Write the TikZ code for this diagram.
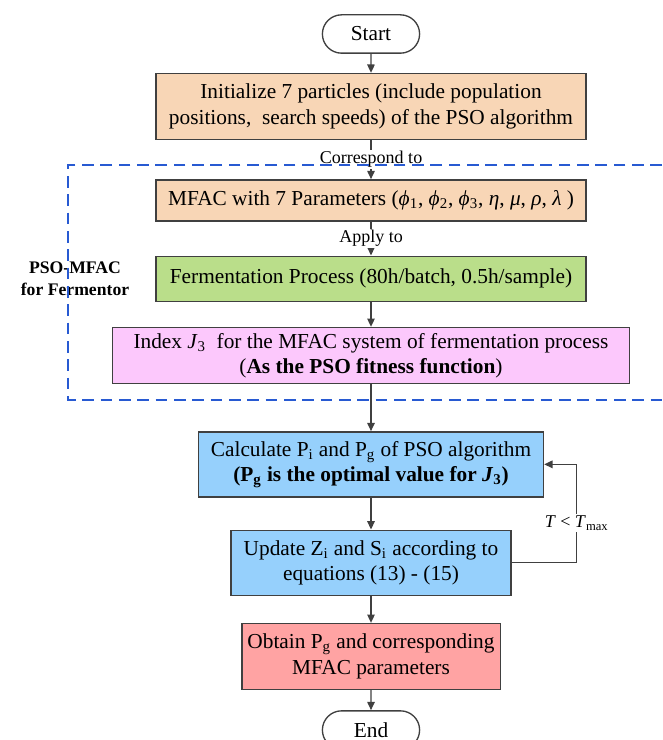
\documentclass[tikz,border=0pt]{standalone}
\usepackage{fontspec}
\setmainfont{Liberation Serif}
\usetikzlibrary{arrows.meta,positioning,shapes.misc}
\definecolor{peach}{RGB}{248,214,182}
\definecolor{leaf}{RGB}{186,222,138}
\definecolor{orchid}{RGB}{252,200,252}
\definecolor{sky}{RGB}{150,208,252}
\definecolor{salmon}{RGB}{255,163,163}
\definecolor{linegray}{RGB}{64,64,64}
\definecolor{dashblue}{RGB}{40,90,210}
\begin{document}
\begin{tikzpicture}[font=\fontsize{12.8}{15.2}\selectfont, line width=0.8pt,
		term/.style={rounded rectangle, draw=linegray, minimum width=65pt, minimum height=23pt},
		box/.style={rectangle, draw=linegray, align=center, inner sep=2pt},
		arr/.style={-{Triangle[length=5pt,width=4.5pt]}, draw=linegray},
		lbl/.style={fill=white, inner sep=1pt, font=\fontsize{10.8}{13}\selectfont}]
		\useasboundingbox (0,0) rectangle (397.2pt,-444pt);
		\node[term] (start) at (222.6pt,-20.4pt) {Start};
		\node[box, fill=peach, below=11.4pt of start, minimum width=258pt, minimum height=39.6pt] (init) {Initialize 7 particles (include population\\positions,\ \ search speeds) of the PSO algorithm};
		\node[box, fill=peach, below=23.4pt of init, minimum width=258pt, minimum height=24.6pt] (mfac) {MFAC with 7 Parameters (\textit{ϕ}\textsubscript{1}, \textit{ϕ}\textsubscript{2}, \textit{ϕ}\textsubscript{3}, \textit{η}, \textit{μ}, \textit{ρ}, \textit{λ} )};
		\node[box, fill=leaf, below=20.4pt of mfac, minimum width=258pt, minimum height=27pt] (ferm) {Fermentation Process (80h/batch, 0.5h/sample)};
		\node[box, fill=orchid, below=15pt of ferm, minimum width=310pt, minimum height=33.6pt] (index) {Index \textit{J}\textsubscript{3}\ \ for the MFAC system of fermentation process\\(\textbf{As the PSO fitness function})};
		\node[box, fill=sky, below=28.2pt of index, minimum width=207pt, minimum height=39pt] (calc) {Calculate P\textsubscript{i} and P\textsubscript{g} of PSO algorithm\\\textbf{(P\textsubscript{g} is the optimal value for \textit{J}\textsubscript{3})}};
		\node[box, fill=sky, below=19.2pt of calc, minimum width=168pt, minimum height=39pt] (update) {Update Z\textsubscript{i} and S\textsubscript{i} according to\\equations (13) - (15)};
		\node[box, fill=salmon, below=16.2pt of update, minimum width=155pt, minimum height=39.6pt] (obtain) {Obtain P\textsubscript{g} and corresponding\\MFAC parameters};
		\node[term, below=12pt of obtain] (end) {End};
		\node[font=\bfseries\fontsize{10.6}{13.2}\selectfont, align=center] (psolabel) at (45pt,-167.4pt) {PSO-MFAC\\for Fermentor};
		\draw[arr] (start) -- (init);
		\draw[arr] (init) -- node[lbl] (corr) {Correspond to} (mfac);
		\draw[arr] (mfac) -- node[lbl] (apply) {Apply to} (ferm);
		\draw[arr] (ferm) -- (index);
		\draw[arr] (index) -- (calc);
		\draw[arr] (calc) -- (update);
		\draw[arr] (update) -- (obtain);
		\draw[arr] (obtain) -- (end);
		\draw[arr] (update.east) -- ++(39pt,0) |- node[pos=0.2, lbl] (cond) {\textit{T} < \textit{T}\textsubscript{max}} (calc.east);
		\draw[dashblue, dash pattern=on 7pt off 4pt, line width=0.9pt] (397.2pt,-99pt) -| (40.8pt,-240pt) -- (397.2pt,-240pt);
	\end{tikzpicture}
\end{document}
